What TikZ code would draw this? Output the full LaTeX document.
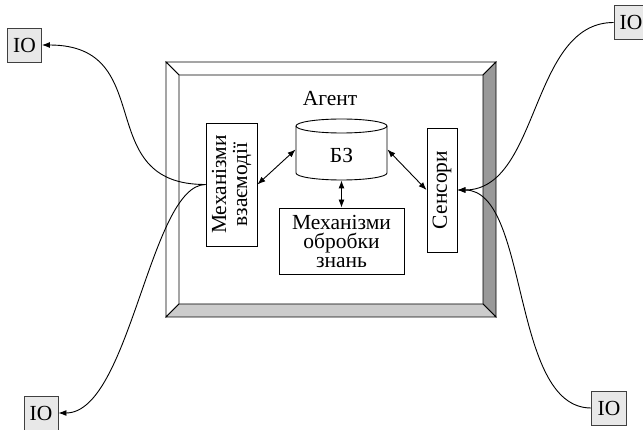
\documentclass[tikz,border=0pt]{standalone}
\usepackage{fontspec}
\setmainfont{Liberation Serif}
\usetikzlibrary{arrows.meta}
\begin{document}
\begin{tikzpicture}[x=1pt,y=-1pt,line width=0.9pt,
  io/.style={draw=black!75,fill=black!9,minimum width=34pt,minimum height=34pt,inner sep=0pt,font=\fontsize{21.5}{21.5}\selectfont},
  blk/.style={draw,fill=white,inner sep=0pt},
  txt/.style={inner sep=0pt,align=center,font=\fontsize{21.5}{19}\selectfont},
  rtxt/.style={inner sep=0pt,align=center,rotate=90,font=\fontsize{21.5}{21}\selectfont},
  tip/.style={-{Latex[length=8pt,width=6pt]}},
  dtip/.style={{Latex[length=8pt,width=6pt]}-{Latex[length=8pt,width=6pt]}},
  bevel/.style={draw=black,line width=0.8pt}]
\useasboundingbox (0,0) rectangle (643,430);
% frame
\fill[white] (179,75) rectangle (483,304);
\filldraw[bevel,fill=white] (166,62) -- (496,62) -- (483,75) -- (179,75) -- cycle;
\filldraw[bevel,fill=white] (166,62) -- (179,75) -- (179,304) -- (166,317) -- cycle;
\filldraw[bevel,fill=black!40] (496,62) -- (496,317) -- (483,304) -- (483,75) -- cycle;
\filldraw[bevel,fill=black!20] (166,317) -- (496,317) -- (483,304) -- (179,304) -- cycle;
% title
\node[txt] (ag) at (330,99) {Агент};
% blocks
\node[blk,minimum width=51pt,minimum height=123pt] (mv) at (231.5,184.5) {};
\node[rtxt] (mvt) at (mv.center) {Механізми\\взаємодії};
\node[blk,minimum width=30pt,minimum height=124pt] (st) at (442,190) {};
\node[rtxt] (stt) at (st.center) {Сенсори};
\node[blk,minimum width=125pt,minimum height=66pt] (mo) at (341.5,241) {};
\node[txt] (mot) at (mo.center) {Механізми\\обробки\\знань};
% cylinder
\node[minimum width=91pt,minimum height=61pt,inner sep=0pt] (cyl) at (341.5,149.5) {};
\filldraw[draw=black,fill=white,line width=0.9pt] (296,126) -- (296,173) arc[start angle=180,end angle=360,x radius=45.5pt,y radius=7pt] -- (387,126) arc[start angle=0,end angle=180,x radius=45.5pt,y radius=7pt] -- cycle;
\draw (296,126) arc[start angle=180,end angle=360,x radius=45.5pt,y radius=7pt];
\node[txt] (bz) at (341.5,155) {БЗ};
% IO nodes
\node[io] (io1) at (24.5,45) {IO};
\node[io] (io2) at (631,22.5) {IO};
\node[io] (io3) at (41,413) {IO};
\node[io,minimum width=35pt] (io4) at (609,408) {IO};
% internal arrows
\draw[dtip] (mv.east) -- (cyl.west);
\draw[dtip] (cyl.south) -- (mo.north);
\draw[dtip] (cyl.east) -- (st.west);
% external curves
\draw[tip] (mv.west) .. controls (90,185) and (160,45) .. (io1.east);
\draw[tip] (mv.west) .. controls (150,185) and (130,413) .. (io3.east);
\draw[tip] (io2.west) .. controls (530,22.5) and (540,190) .. (st.east);
\draw[tip] (io4.west) .. controls (510,408) and (530,190) .. (st.east);
\end{tikzpicture}
\end{document}
